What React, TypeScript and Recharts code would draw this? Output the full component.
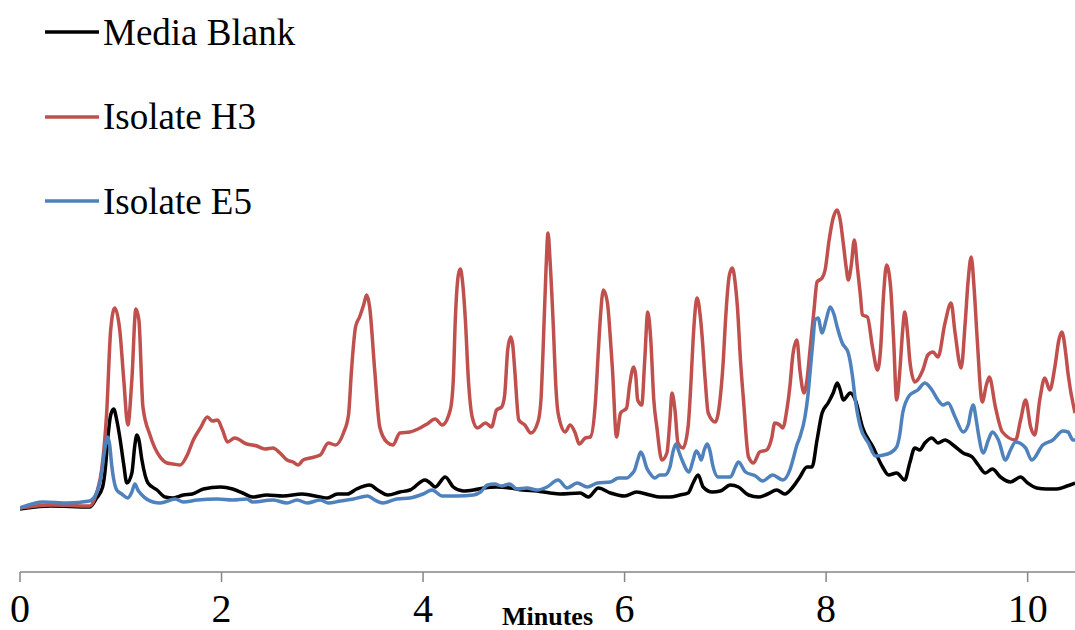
import { LineChart, Line, XAxis, YAxis, Legend } from 'recharts';

// retention time (minutes) and detector response for each run
const blankTime = [
  0, 0.3, 0.69, 0.76, 0.82, 0.85, 0.87, 0.9, 0.93, 0.96, 0.99, 1.03, 1.06, 1.11, 1.14, 1.16, 1.18, 1.21, 1.27, 1.36,
  1.44, 1.52, 1.62, 1.71, 1.82, 1.99, 2.11, 2.21, 2.31, 2.45, 2.61, 2.8, 2.98, 3.05, 3.15, 3.25, 3.34, 3.47, 3.55, 3.65,
  3.77, 3.87, 4.02, 4.07, 4.12, 4.22, 4.3, 4.4, 4.5, 4.6, 4.73, 4.86, 4.99, 5.13, 5.26, 5.36, 5.56, 5.64, 5.74, 5.86,
  6.0, 6.12, 6.25, 6.35, 6.45, 6.55, 6.63, 6.68, 6.73, 6.78, 6.87, 6.95, 7.05, 7.13, 7.23, 7.33, 7.42, 7.51, 7.59, 7.67,
  7.74, 7.81, 7.86, 7.91, 7.96, 8.02, 8.07, 8.11, 8.14, 8.17, 8.24, 8.29, 8.36, 8.47, 8.56, 8.62, 8.7, 8.78, 8.83, 8.88,
  8.93, 8.98, 9.05, 9.11, 9.18, 9.26, 9.36, 9.45, 9.51, 9.58, 9.65, 9.73, 9.83, 9.93, 10.0, 10.09, 10.19, 10.29, 10.39, 10.47,
];
const blankValue = [
  63, 66, 65, 74, 85, 107, 132, 157, 163, 152, 135, 107, 89, 99, 127, 137, 132, 112, 89, 82,
  75, 74, 77, 78, 83, 85, 83, 79, 75, 77, 76, 78, 75, 74, 78, 78, 83, 87, 82, 77,
  80, 82, 92, 89, 85, 95, 85, 81, 82, 84, 85, 84, 82, 81, 79, 78, 79, 75, 84, 79,
  76, 80, 77, 75, 75, 77, 79, 89, 97, 85, 80, 81, 87, 85, 77, 75, 78, 82, 78, 85,
  95, 105, 105, 132, 159, 169, 179, 189, 182, 172, 179, 172, 145, 124, 105, 97, 99, 92, 109, 124,
  122, 129, 134, 129, 132, 127, 119, 115, 107, 99, 103, 95, 90, 95, 89, 84, 83, 83, 86, 89,
];

const h3Time = [
  0, 0.3, 0.69, 0.76, 0.81, 0.86, 0.9, 0.94, 0.99, 1.03, 1.07, 1.11, 1.15, 1.18, 1.22, 1.29, 1.39, 1.46, 1.52, 1.59,
  1.66, 1.72, 1.79, 1.86, 1.91, 1.96, 2.01, 2.06, 2.13, 2.25, 2.35, 2.43, 2.51, 2.58, 2.65, 2.71, 2.76, 2.81, 2.88, 2.98,
  3.06, 3.13, 3.21, 3.26, 3.29, 3.33, 3.37, 3.41, 3.44, 3.47, 3.52, 3.57, 3.64, 3.7, 3.77, 3.87, 3.97, 4.04, 4.12, 4.19,
  4.27, 4.3, 4.32, 4.35, 4.37, 4.39, 4.42, 4.45, 4.49, 4.54, 4.62, 4.68, 4.73, 4.78, 4.81, 4.84, 4.87, 4.89, 4.91, 4.95,
  5.01, 5.07, 5.14, 5.17, 5.19, 5.22, 5.24, 5.26, 5.29, 5.32, 5.34, 5.41, 5.46, 5.51, 5.55, 5.61, 5.66, 5.71, 5.74, 5.76,
  5.79, 5.83, 5.86, 5.88, 5.92, 5.96, 6.02, 6.05, 6.09, 6.11, 6.13, 6.17, 6.2, 6.23, 6.26, 6.29, 6.32, 6.37, 6.42, 6.45,
  6.47, 6.5, 6.53, 6.58, 6.63, 6.66, 6.68, 6.72, 6.75, 6.77, 6.8, 6.83, 6.9, 6.95, 6.98, 7.0, 7.04, 7.07, 7.1, 7.12,
  7.15, 7.18, 7.23, 7.28, 7.34, 7.41, 7.46, 7.49, 7.54, 7.57, 7.61, 7.64, 7.67, 7.71, 7.74, 7.78, 7.81, 7.84, 7.88, 7.91,
  7.96, 7.99, 8.03, 8.07, 8.11, 8.14, 8.17, 8.2, 8.22, 8.25, 8.28, 8.31, 8.34, 8.36, 8.41, 8.46, 8.51, 8.54, 8.57, 8.6,
  8.64, 8.67, 8.7, 8.73, 8.76, 8.78, 8.81, 8.83, 8.88, 8.96, 9.01, 9.06, 9.11, 9.18, 9.24, 9.28, 9.34, 9.38, 9.41, 9.44,
  9.47, 9.5, 9.55, 9.59, 9.62, 9.68, 9.75, 9.88, 9.93, 9.98, 10.03, 10.07, 10.12, 10.17, 10.22, 10.27, 10.31, 10.34, 10.38, 10.4,
  10.47,
];
const h3Value = [
  64, 67, 66, 79, 102, 159, 242, 264, 242, 192, 147, 192, 263, 252, 165, 137, 115, 109, 108, 107,
  117, 132, 144, 155, 151, 152, 142, 130, 134, 128, 126, 123, 124, 119, 112, 110, 107, 112, 114, 117,
  129, 127, 139, 157, 202, 245, 255, 267, 277, 265, 202, 145, 130, 127, 139, 140, 144, 148, 153, 147,
  162, 192, 252, 297, 303, 292, 252, 192, 154, 144, 149, 145, 162, 165, 177, 222, 235, 227, 202, 152,
  147, 139, 150, 172, 219, 302, 339, 312, 252, 182, 159, 140, 147, 139, 128, 134, 135, 169, 222, 255,
  282, 269, 232, 202, 135, 159, 164, 187, 205, 197, 172, 167, 212, 260, 232, 172, 145, 112, 119, 152,
  179, 162, 129, 124, 145, 192, 232, 274, 257, 235, 192, 159, 150, 175, 212, 249, 297, 304, 287, 265,
  212, 172, 115, 109, 120, 122, 134, 149, 147, 144, 162, 185, 217, 232, 202, 179, 192, 222, 262, 290,
  294, 302, 332, 354, 362, 352, 329, 304, 292, 307, 332, 305, 277, 257, 255, 225, 202, 222, 277, 307,
  285, 232, 172, 199, 242, 260, 237, 212, 190, 202, 217, 220, 215, 249, 269, 239, 204, 249, 292, 315,
  282, 232, 170, 187, 195, 165, 140, 132, 152, 172, 145, 137, 172, 194, 182, 205, 232, 240, 217, 199,
  159,
];

const e5Time = [
  0, 0.23, 0.47, 0.69, 0.76, 0.81, 0.84, 0.87, 0.89, 0.91, 0.96, 1.01, 1.07, 1.11, 1.14, 1.17, 1.21, 1.32, 1.39, 1.54,
  1.62, 1.76, 1.96, 2.11, 2.25, 2.31, 2.51, 2.65, 2.75, 2.85, 2.98, 3.06, 3.18, 3.31, 3.45, 3.52, 3.6, 3.74, 3.87, 4.0,
  4.09, 4.19, 4.34, 4.5, 4.57, 4.64, 4.71, 4.78, 4.86, 4.93, 5.03, 5.13, 5.23, 5.34, 5.43, 5.53, 5.63, 5.73, 5.86, 5.94,
  6.02, 6.07, 6.1, 6.13, 6.16, 6.18, 6.22, 6.25, 6.3, 6.35, 6.4, 6.45, 6.48, 6.51, 6.54, 6.57, 6.64, 6.68, 6.71, 6.74,
  6.76, 6.79, 6.82, 6.85, 6.87, 6.93, 7.05, 7.1, 7.13, 7.2, 7.3, 7.37, 7.47, 7.57, 7.64, 7.67, 7.71, 7.74, 7.79, 7.82,
  7.84, 7.87, 7.89, 7.92, 7.96, 8.0, 8.04, 8.08, 8.11, 8.16, 8.22, 8.26, 8.29, 8.34, 8.42, 8.49, 8.61, 8.7, 8.73, 8.76,
  8.83, 8.91, 8.98, 9.05, 9.11, 9.16, 9.21, 9.28, 9.36, 9.41, 9.44, 9.46, 9.49, 9.51, 9.56, 9.61, 9.65, 9.71, 9.78, 9.83,
  9.88, 9.98, 10.04, 10.15, 10.25, 10.35, 10.4, 10.45, 10.47,
];
const e5Value = [
  64, 70, 69, 71, 79, 99, 122, 135, 127, 107, 82, 78, 74, 80, 88, 82, 77, 70, 69, 73,
  70, 72, 73, 72, 73, 70, 72, 69, 72, 69, 72, 69, 71, 73, 76, 72, 69, 73, 74, 78,
  82, 76, 76, 77, 80, 87, 88, 86, 88, 83, 84, 82, 85, 92, 84, 89, 85, 89, 90, 94,
  94, 98, 102, 112, 120, 117, 104, 99, 94, 97, 97, 105, 120, 128, 120, 112, 100, 112, 121, 117,
  112, 122, 128, 120, 109, 95, 95, 105, 110, 100, 96, 91, 97, 92, 102, 112, 127, 135, 155, 177,
  199, 232, 252, 254, 239, 252, 265, 257, 245, 229, 219, 197, 172, 145, 129, 116, 118, 125, 137, 159,
  177, 182, 189, 182, 172, 167, 169, 155, 140, 147, 162, 167, 152, 139, 119, 132, 140, 132, 112, 122,
  130, 124, 112, 127, 132, 141, 140, 132, 132,
];

const minuteTicks = [0, 2, 4, 6, 8, 10];

const toPoints = (time: number[], value: number[]) => time.map((t, i) => ({ t, v: value[i] }));

const series = [
  { name: 'Media Blank', color: '#000000', data: toPoints(blankTime, blankValue) },
  { name: 'Isolate H3', color: '#C0504D', data: toPoints(h3Time, h3Value) },
  { name: 'Isolate E5', color: '#4F81BD', data: toPoints(e5Time, e5Value) },
];

const FONT = "'Liberation Serif', serif";

const renderLegend = () => (
  <div>
    {series.map((s, i) => (
      <div
        key={s.name}
        style={{
          position: 'absolute',
          left: 45,
          top: 32 + i * 84.5 - 24,
          height: 48,
          display: 'flex',
          alignItems: 'center',
          whiteSpace: 'nowrap',
          fontFamily: FONT,
          fontSize: 37,
          color: '#000',
        }}
      >
        <svg width={55} height={6} style={{ marginRight: 3 }}>
          <line x1={0} y1={3} x2={54} y2={3} stroke={s.color} strokeWidth={3.5} />
        </svg>
        <span style={{ fontFamily: FONT }}>{s.name}</span>
      </div>
    ))}
  </div>
);

export default function App() {
  return (
    <div style={{ position: 'absolute', left: 0, top: 0, background: '#fff' }}>
      <LineChart width={1075} height={630} margin={{ top: 10, right: 0, left: 20, bottom: 0 }}>
        <XAxis
          type="number"
          dataKey="t"
          domain={[0, 10.47]}
          ticks={minuteTicks}
          allowDataOverflow
          height={58}
          stroke="#868686"
          strokeWidth={1.5}
          tickSize={10}
          tickMargin={12}
          tick={{ fill: '#000', fontSize: 40, fontFamily: FONT }}
          label={{
            value: 'Minutes',
            position: 'insideBottom',
            offset: 5,
            fill: '#000',
            fontSize: 26,
            fontWeight: 'bold',
            fontFamily: FONT,
          }}
        />
        <YAxis hide domain={[0, 562]} />
        <Legend
          content={renderLegend}
          wrapperStyle={{ left: 0, top: 0, width: 0, height: 0, overflow: 'visible' }}
        />
        {series.map((s) => (
          <Line
            key={s.name}
            data={s.data}
            dataKey="v"
            name={s.name}
            type="monotone"
            stroke={s.color}
            strokeWidth={3.5}
            dot={false}
            activeDot={false}
            isAnimationActive={false}
          />
        ))}
      </LineChart>
    </div>
  );
}
